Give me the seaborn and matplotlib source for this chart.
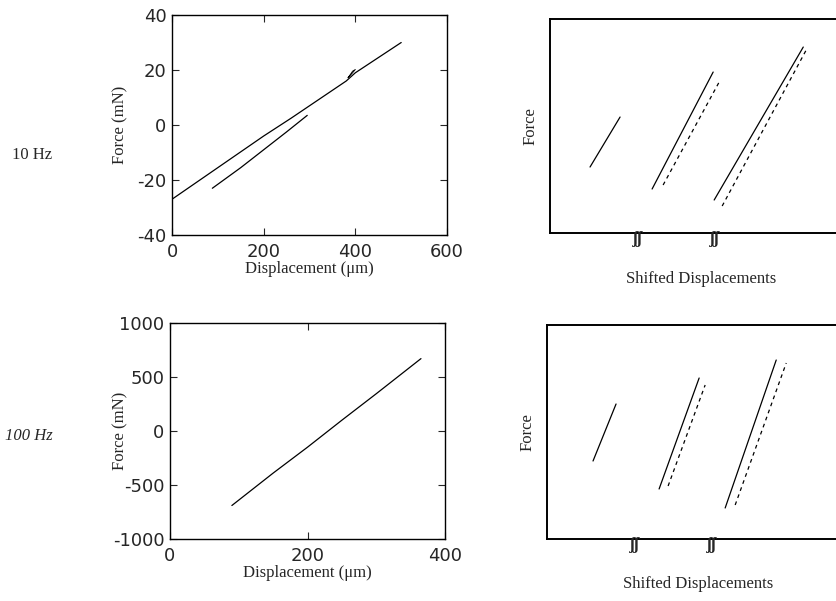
import numpy as np
import pandas as pd
import matplotlib
matplotlib.use("Agg")
import matplotlib.pyplot as plt
import seaborn as sns

# ---- data ----
# 10 Hz force-displacement loop (um, mN)
disp_10_upper = [0, 100, 200, 260, 300, 380, 400, 500]
force_10_upper = [-27, -15.5, -4, 2.5, 7, 16, 19, 30]
disp_10_lower = [88, 150, 200, 250, 295]
force_10_lower = [-23, -15.5, -9, -2.5, 3.5]
disp_10_loop = [384, 392, 400, 394, 384]
force_10_loop = [17.2, 18.6, 20.2, 19.6, 17.2]

# 100 Hz force-displacement (um, mN)
disp_100 = [90, 150, 200, 250, 300, 365]
force_100 = [-690, -390, -150, 100, 345, 670]

# shifted displacement panels (arbitrary units): three segments, solid + dashed
shift_10 = {
    "seg1": ([40, 70], [66, 116], "-"),
    "seg2": ([102, 163], [44, 161], "-"),
    "seg2d": ([113, 169], [48, 151], "--"),
    "seg3": ([164, 253], [33, 186], "-"),
    "seg3d": ([172, 257], [27, 185], "--"),
}
shift_100 = {
    "seg1": ([46, 69], [78, 135], "-"),
    "seg2": ([112, 152], [50, 161], "-"),
    "seg2d": ([121, 158], [53, 154], "--"),
    "seg3": ([178, 229], [31, 179], "-"),
    "seg3d": ([188, 239], [34, 176], "--"),
}
break_x = [88, 165]

sns.set_theme(style="ticks")
plt.rcParams["font.family"] = ["Liberation Sans Narrow", "DejaVu Sans"]
plt.rcParams["xtick.direction"] = "in"
plt.rcParams["ytick.direction"] = "in"
plt.rcParams["axes.unicode_minus"] = False

serif = ["Liberation Serif", "DejaVu Serif"]

fig = plt.figure(figsize=(8.37, 6.01), dpi=100)
ax1 = fig.add_axes([0.2055, 0.609, 0.3286, 0.366])
ax2 = fig.add_axes([0.6571, 0.6123, 0.36, 0.356])
ax3 = fig.add_axes([0.2031, 0.1032, 0.3286, 0.3594])
ax4 = fig.add_axes([0.6535, 0.1032, 0.36, 0.356])

lw = 0.9

# 10 Hz data
sns.lineplot(x=disp_10_upper, y=force_10_upper, sort=False, estimator=None, color="black", lw=lw, ax=ax1)
sns.lineplot(x=disp_10_lower, y=force_10_lower, sort=False, estimator=None, color="black", lw=lw, ax=ax1)
sns.lineplot(x=disp_10_loop, y=force_10_loop, sort=False, estimator=None, color="black", lw=0.6, ax=ax1)
ax1.set_xlim(0, 600)
ax1.set_ylim(-40, 40)
ax1.set_xticks([0, 200, 400, 600])
ax1.set_yticks([-40, -20, 0, 20, 40])

# 100 Hz data
sns.lineplot(x=disp_100, y=force_100, sort=False, estimator=None, color="black", lw=lw, ax=ax3)
ax3.set_xlim(0, 400)
ax3.set_ylim(-1000, 1000)
ax3.set_xticks([0, 200, 400])
ax3.set_yticks([-1000, -500, 0, 500, 1000])

for ax in (ax1, ax3):
    ax.tick_params(top=True, right=True, labelsize=13, length=5, width=0.8, pad=4)
    ax.tick_params(axis="x", pad=6)
    for s in ax.spines.values():
        s.set_linewidth(1.0)
        s.set_color("black")
    ax.set_xlabel("Displacement (\u03bcm)", family=serif, fontsize=12, labelpad=0)
    ax.set_ylabel("Force (mN)", family=serif, fontsize=12)
ax1.yaxis.set_label_coords(-0.16, 0.5)
ax3.yaxis.set_label_coords(-0.153, 0.5)

# shifted panels
for ax, segs in ((ax2, shift_10), (ax4, shift_100)):
    for name, (xs, ys, ls) in segs.items():
        d = pd.DataFrame({"x": xs, "y": ys})
        sns.lineplot(data=d, x="x", y="y", sort=False, estimator=None, color="black",
                     lw=lw, linestyle=ls, dashes=False, ax=ax)
        if ls == "--":
            ax.lines[-1].set_dashes([3, 3])
    ax.set_xlim(0, 301)
    ax.set_ylim(0, 214)
    ax.set_xticks([])
    ax.set_yticks([])
    for s in ax.spines.values():
        s.set_linewidth(1.4)
        s.set_color("black")
    ax.set_xlabel("Shifted Displacements", family=serif, fontsize=12, labelpad=27)
    ax.set_ylabel("Force", family=serif, fontsize=12, labelpad=8)
    for bx in break_x:
        ax.text(bx, 2, "\u0283\u0283", family=serif, fontsize=12, fontweight="bold",
                ha="center", va="top", clip_on=False)

fig.text(0.038, 1 - 155 / 601, "10 Hz", family=serif, fontsize=12, ha="center", va="center")
fig.text(0.034, 1 - 436 / 601, "100 Hz", family=serif, style="italic", fontsize=12,
         ha="center", va="center")

fig.savefig("out.png", dpi=100, facecolor="white")
